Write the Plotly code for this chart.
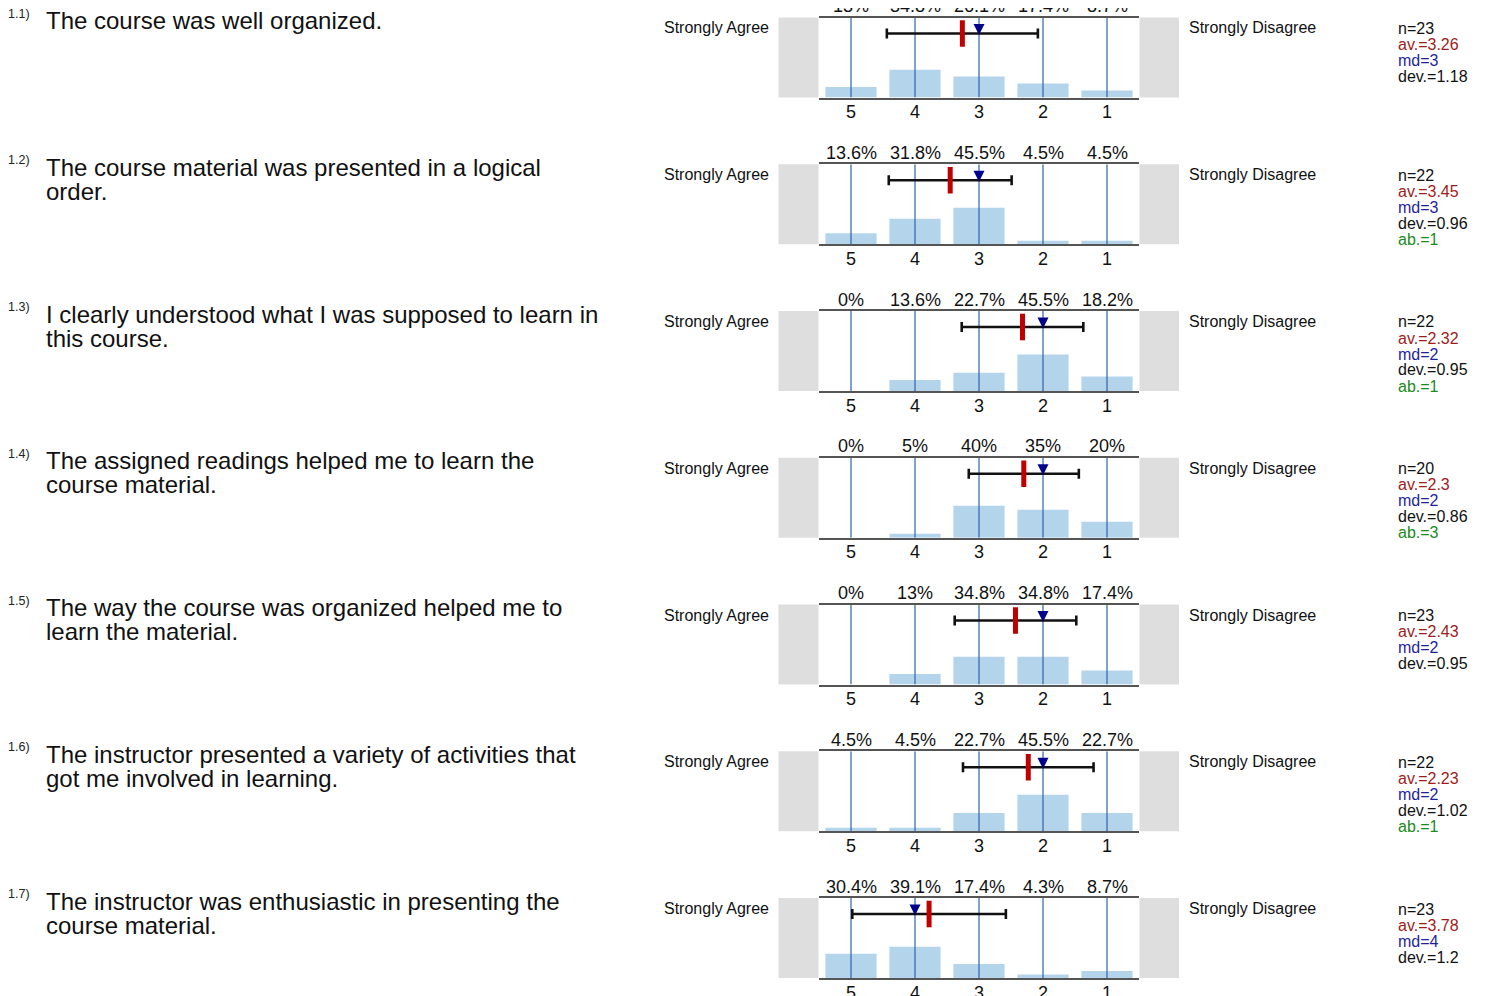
import plotly.graph_objects as go

# ---------------- data ----------------
categories = [5, 4, 3, 2, 1]
tick_labels = ["5", "4", "3", "2", "1"]
left_label = "Strongly Agree"
right_label = "Strongly Disagree"

question_ids = ["1.1)", "1.2)", "1.3)", "1.4)", "1.5)", "1.6)", "1.7)"]
question_lines = [
    ["The course was well organized."],
    ["The course material was presented in a logical", "order."],
    ["I clearly understood what I was supposed to learn in", "this course."],
    ["The assigned readings helped me to learn the", "course material."],
    ["The way the course was organized helped me to", "learn the material."],
    ["The instructor presented a variety of activities that", "got me involved in learning."],
    ["The instructor was enthusiastic in presenting the", "course material."],
]

pct_q1 = [13, 34.8, 26.1, 17.4, 8.7]
pct_q2 = [13.6, 31.8, 45.5, 4.5, 4.5]
pct_q3 = [0, 13.6, 22.7, 45.5, 18.2]
pct_q4 = [0, 5, 40, 35, 20]
pct_q5 = [0, 13, 34.8, 34.8, 17.4]
pct_q6 = [4.5, 4.5, 22.7, 45.5, 22.7]
pct_q7 = [30.4, 39.1, 17.4, 4.3, 8.7]
percentages = [pct_q1, pct_q2, pct_q3, pct_q4, pct_q5, pct_q6, pct_q7]

n_values = [23, 22, 22, 20, 23, 22, 23]
means = [3.26, 3.45, 2.32, 2.3, 2.43, 2.23, 3.78]
medians = [3, 3, 2, 2, 2, 2, 4]
std_devs = [1.18, 0.96, 0.95, 0.86, 0.95, 1.02, 1.2]
abstentions = [None, 1, 1, 3, None, 1, None]

# ---------------- layout helpers ----------------
PAGE_OFF = 8            # default page margin of the html body
W, H = 1488 - PAGE_OFF, 996 - PAGE_OFF
FONT = "Liberation Sans, Arial, sans-serif"
PANEL_TOP0 = 17.5
PANEL_STEP = 146.75
PANEL_H = 80
BOX_L, BOX_R = 819, 1139
GREY_L = (778.5, 818.5)
GREY_R = (1139.5, 1179)

BAR_COLOR = "#b4d4ec"
GRID_COLOR = "#2a64a8"
BORDER_COLOR = "#555555"
MEAN_COLOR = "#c00000"
MEDIAN_COLOR = "#00008b"
AV_COLOR = "#9e1b1b"
MD_COLOR = "#1f1f9e"
AB_COLOR = "#1a8a1a"


def px(x):
    return (x - PAGE_OFF) / W


def py(y):
    return 1 - (y - PAGE_OFF) / H


fig = go.Figure()
annotations = []
shapes = []

for i in range(len(percentages)):
    k = i + 1
    xa = "x" if k == 1 else f"x{k}"
    ya = "y" if k == 1 else f"y{k}"
    top = PANEL_TOP0 + i * PANEL_STEP
    bot = top + PANEL_H

    # bars
    fig.add_trace(go.Bar(
        x=categories, y=percentages[i], width=0.8,
        marker=dict(color=BAR_COLOR, line=dict(width=0)),
        xaxis=xa, yaxis=ya, hoverinfo="skip", showlegend=False,
    ))
    # vertical category lines drawn over the bars
    gx, gy = [], []
    for c in categories:
        gx += [c, c, None]
        gy += [0, 100, None]
    fig.add_trace(go.Scatter(
        x=gx, y=gy, mode="lines", line=dict(color=GRID_COLOR, width=1.2),
        xaxis=xa, yaxis=ya, hoverinfo="skip", showlegend=False,
    ))
    # mean +/- deviation
    fig.add_trace(go.Scatter(
        x=[means[i]], y=[80], mode="markers",
        marker=dict(symbol="line-ns", size=19, line=dict(width=5, color=MEAN_COLOR)),
        error_x=dict(type="data", array=[std_devs[i]], color="#111111",
                     thickness=2.6, width=5),
        xaxis=xa, yaxis=ya, hoverinfo="skip", showlegend=False,
    ))
    # median
    fig.add_trace(go.Scatter(
        x=[medians[i]], y=[78], mode="markers",
        marker=dict(symbol="arrow-down", size=11, color=MEDIAN_COLOR, line=dict(width=0)),
        xaxis=xa, yaxis=ya, hoverinfo="skip", showlegend=False,
    ))

    dom_y = [py(bot), py(top)]
    fig.update_layout(**{
        ("xaxis" if k == 1 else f"xaxis{k}"): dict(
            domain=[px(BOX_L), px(BOX_R)], range=[5.5, 0.5], anchor=ya,
            tickmode="array", tickvals=categories, ticktext=tick_labels,
            showgrid=False, zeroline=False, showline=True, mirror=True,
            linecolor=BORDER_COLOR, linewidth=2, ticks="", ticklabelstandoff=-3,
            automargin=False,
            tickfont=dict(size=18, color="#111111"), fixedrange=True,
        ),
        ("yaxis" if k == 1 else f"yaxis{k}"): dict(
            domain=dom_y, range=[0, 100], anchor=xa, visible=False,
            automargin=False, fixedrange=True,
        ),
    })

    # grey end boxes
    for (x0, x1) in (GREY_L, GREY_R):
        shapes.append(dict(type="rect", xref="paper", yref="paper",
                           x0=px(x0), x1=px(x1), y0=py(bot), y1=py(top),
                           fillcolor="#dedede", line=dict(width=0), layer="below"))

    # percentage labels
    for c, v in zip(categories, percentages[i]):
        annotations.append(dict(
            x=c, y=1, xref=xa, yref=f"{ya} domain", text=f"{v:g}%",
            showarrow=False, xanchor="center", yanchor="bottom",
            font=dict(size=18, color="#111111"), yshift=-0.5,
        ))

    # left / right labels
    annotations.append(dict(x=px(771), y=py(top + 10.5), xref="paper", yref="paper",
                            text=left_label, showarrow=False, xanchor="right",
                            yanchor="middle", font=dict(size=16, color="#111111")))
    annotations.append(dict(x=px(1187), y=py(top + 10.5), xref="paper", yref="paper",
                            text=right_label, showarrow=False, xanchor="left",
                            yanchor="middle", font=dict(size=16, color="#111111")))

    # question number and text
    annotations.append(dict(x=px(6), y=py(top - 4), xref="paper", yref="paper",
                            text=question_ids[i], showarrow=False, xanchor="left",
                            yanchor="middle", font=dict(size=12.5, color="#222222")))
    for j, line in enumerate(question_lines[i]):
        annotations.append(dict(x=px(44), y=py(top + 3 + 24 * j), xref="paper",
                                yref="paper", text=line, showarrow=False,
                                xanchor="left", yanchor="middle",
                                font=dict(size=24, color="#111111")))

    # statistics block
    stats = [(f"n={n_values[i]}", "#111111"),
             (f"av.={means[i]:g}", AV_COLOR),
             (f"md={medians[i]:g}", MD_COLOR),
             (f"dev.={std_devs[i]:g}", "#111111")]
    if abstentions[i] is not None:
        stats.append((f"ab.={abstentions[i]}", AB_COLOR))
    for j, (txt, col) in enumerate(stats):
        annotations.append(dict(x=px(1396), y=py(top + 11 + 16 * j), xref="paper",
                                yref="paper", text=txt, showarrow=False,
                                xanchor="left", yanchor="middle",
                                font=dict(size=16, color=col)))

fig.update_layout(
    width=W, height=H, margin=dict(l=0, r=0, t=0, b=0, autoexpand=False),
    paper_bgcolor="white", plot_bgcolor="white",
    font=dict(family=FONT, color="#111111"),
    barmode="overlay", showlegend=False,
    annotations=annotations, shapes=shapes,
)

fig.write_html("out.html")
